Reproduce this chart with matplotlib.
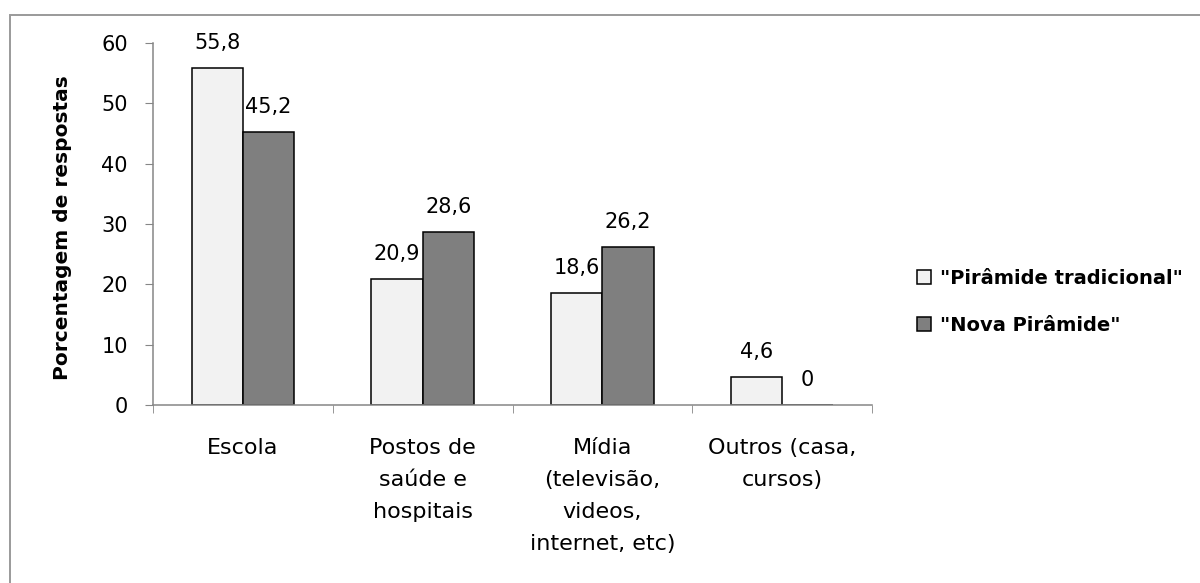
import numpy as np
import matplotlib.pyplot as plt
from matplotlib.patches import Rectangle

plt.rcParams['font.family'] = ['DejaVu Sans']

# dados do gráfico
categorias = ['Escola', 'Postos de\nsaúde e\nhospitais',
              'Mídia\n(televisão,\nvideos,\ninternet, etc)', 'Outros (casa,\ncursos)']
tradicional = [55.8, 20.9, 18.6, 4.6]
nova = [45.2, 28.6, 26.2, 0]
series_nomes = ['"Pirâmide tradicional"', '"Nova Pirâmide"']
y_ticks = [0, 10, 20, 30, 40, 50, 60]

fig = plt.figure(figsize=(12, 5.83), dpi=100)
ax = fig.add_axes([153 / 1200, 1 - 405 / 583, 719 / 1200, 362 / 583])

# moldura cinza do gráfico
fig.patches.append(Rectangle((10 / 1200, -0.1), 1.2, 1 - 15 / 583 + 0.1,
                             transform=fig.transFigure, fill=False,
                             edgecolor='#9a9a9a', linewidth=1.4))

x = np.arange(len(categorias))
w = 0.285
b1 = ax.bar(x - w / 2, tradicional, w, color='#f2f2f2', edgecolor='black',
            linewidth=1.1, label=series_nomes[0])
b2 = ax.bar(x + w / 2, nova, w, color='#7f7f7f', edgecolor='black',
            linewidth=1.1, label=series_nomes[1])

def rotulo(v):
    return f'{v:g}'.replace('.', ',')

ax.bar_label(b1, labels=[rotulo(v) for v in tradicional], padding=11, fontsize=15)
ax.bar_label(b2, labels=[rotulo(v) for v in nova], padding=11, fontsize=15)

ax.set_xlim(-0.5, len(categorias) - 0.5)
ax.set_ylim(0, 60)
ax.set_yticks(y_ticks)
ax.set_yticklabels([str(t) for t in y_ticks], fontsize=15)
ax.set_xticks(x)
ax.set_xticklabels(categorias, fontsize=16, linespacing=1.75, va='top')
ax.set_xticks(np.arange(len(categorias) + 1) - 0.5, minor=True)
ax.tick_params(axis='x', which='major', length=0, pad=24)
ax.tick_params(axis='x', which='minor', length=6, color='#868686', direction='out')
ax.tick_params(axis='y', length=6, color='#868686', pad=12)

for s in ['top', 'right']:
    ax.spines[s].set_visible(False)
for s in ['left', 'bottom']:
    ax.spines[s].set_color('#868686')
    ax.spines[s].set_linewidth(1.1)

ax.set_ylabel('Porcentagem de respostas', fontsize=14.5, fontweight='bold')
ax.yaxis.set_label_coords(-0.113, 0.49)

fig.legend(handles=[b1, b2], loc='center left', bbox_to_anchor=(899 / 1200, 1 - 302 / 583),
           frameon=False, prop={'weight': 'bold', 'size': 14},
           handlelength=0.75, handleheight=0.75, handletextpad=0.45, labelspacing=1.45)

fig.savefig('out.png', dpi=100)
